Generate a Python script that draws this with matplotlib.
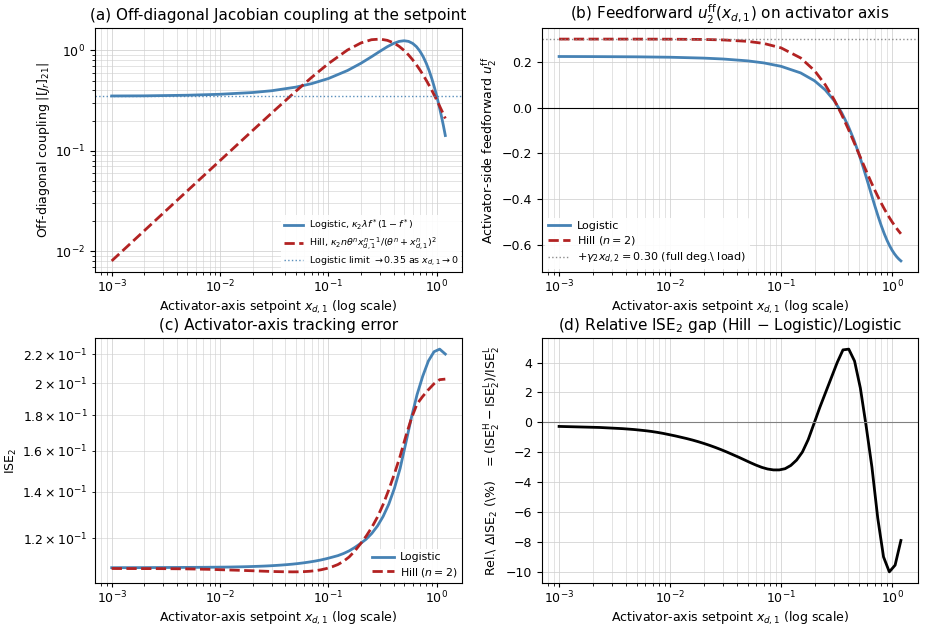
import numpy as np
import matplotlib
matplotlib.use("Agg")
import matplotlib.pyplot as plt

# ---------------- data ----------------
x_ab = [0.001, 0.002, 0.005, 0.01, 0.02, 0.03, 0.05, 0.07, 0.1, 0.15, 0.2, 0.25,
        0.3, 0.35, 0.4, 0.45, 0.5, 0.55, 0.6, 0.65, 0.7, 0.75, 0.8, 0.85, 0.9,
        0.95, 1.0, 1.05, 1.1, 1.15, 1.2]

# (a) off-diagonal coupling
coup_log = [0.352, 0.353, 0.358, 0.366, 0.381, 0.397, 0.431, 0.467, 0.525, 0.631,
            0.746, 0.866, 0.983, 1.090, 1.175, 1.231, 1.250, 1.231, 1.175, 1.090,
            0.983, 0.866, 0.746, 0.631, 0.525, 0.431, 0.351, 0.282, 0.226, 0.180, 0.142]
coup_hill = [0.0080, 0.0160, 0.0400, 0.0799, 0.1595, 0.2383, 0.3921, 0.5387, 0.7396,
             1.010, 1.189, 1.280, 1.298, 1.261, 1.190, 1.099, 1.000, 0.901, 0.806,
             0.719, 0.639, 0.568, 0.505, 0.449, 0.401, 0.358, 0.320, 0.287, 0.258,
             0.233, 0.210]
coup_limit = 0.35

# (b) feedforward
ff_log = [0.2238, 0.2234, 0.2224, 0.2206, 0.2168, 0.2129, 0.2047, 0.1957, 0.1808,
          0.1520, 0.1176, 0.0773, 0.0311, -0.0208, -0.0775, -0.1378, -0.2000,
          -0.2622, -0.3225, -0.3792, -0.4311, -0.4773, -0.5176, -0.5520, -0.5808,
          -0.6047, -0.6241, -0.6399, -0.6526, -0.6627, -0.6707]
ff_hill = [0.3000, 0.3000, 0.2999, 0.2996, 0.2984, 0.2964, 0.2901, 0.2808, 0.2615,
           0.2174, 0.1621, 0.1000, 0.0353, -0.0289, -0.0902, -0.1475, -0.2000,
           -0.2475, -0.2902, -0.3283, -0.3622, -0.3923, -0.4191, -0.4429, -0.4642,
           -0.4831, -0.5000, -0.5152, -0.5288, -0.5410, -0.5521]
ff_load = 0.30

# (c),(d) simulation grid: 60 log-spaced setpoints from 1e-3 to 1.2
x_sim = np.geomspace(1e-3, 1.2, 60)

ise_log = [0.10900, 0.10900, 0.10901, 0.10901, 0.10902, 0.10902, 0.10903, 0.10904,
           0.10905, 0.10906, 0.10907, 0.10908, 0.10909, 0.10910, 0.10911, 0.10912,
           0.10913, 0.10915, 0.10917, 0.10919, 0.10921, 0.10924, 0.10928, 0.10932,
           0.10937, 0.10943, 0.10950, 0.10958, 0.10968, 0.10980, 0.10994, 0.11010,
           0.11028, 0.11050, 0.11076, 0.11106, 0.11140, 0.11180, 0.11228, 0.11283,
           0.11340, 0.11420, 0.11520, 0.11650, 0.11800, 0.11970, 0.12200, 0.12500,
           0.12900, 0.13430, 0.14150, 0.15100, 0.16400, 0.17850, 0.19250, 0.20450,
           0.21500, 0.22170, 0.22360, 0.22000]
ise_hill = [0.10871, 0.10869, 0.10869, 0.10868, 0.10868, 0.10867, 0.10867, 0.10867,
            0.10866, 0.10865, 0.10863, 0.10862, 0.10860, 0.10858, 0.10854, 0.10851,
            0.10846, 0.10842, 0.10836, 0.10829, 0.10823, 0.10816, 0.10810, 0.10803,
            0.10796, 0.10789, 0.10781, 0.10774, 0.10767, 0.10761, 0.10757, 0.10753,
            0.10751, 0.10753, 0.10759, 0.10772, 0.10792, 0.10824, 0.10871, 0.10933,
            0.11013, 0.11132, 0.11292, 0.11516, 0.11791, 0.12090, 0.12444, 0.12875,
            0.13416, 0.14081, 0.14843, 0.15719, 0.16777, 0.17805, 0.18673, 0.19141,
            0.19565, 0.19953, 0.20225, 0.20262]
rel_gap = [-0.27, -0.28, -0.29, -0.30, -0.31, -0.32, -0.33, -0.34, -0.36, -0.38,
           -0.40, -0.42, -0.45, -0.48, -0.52, -0.56, -0.61, -0.67, -0.74, -0.82,
           -0.90, -0.99, -1.08, -1.18, -1.29, -1.41, -1.54, -1.68, -1.83, -1.99,
           -2.16, -2.33, -2.51, -2.69, -2.86, -3.01, -3.12, -3.18, -3.18, -3.10,
           -2.88, -2.52, -1.98, -1.15, -0.08, 1.00, 2.00, 3.00, 4.00, 4.85,
           4.90, 4.10, 2.30, -0.25, -3.00, -6.40, -9.00, -10.00, -9.55, -7.90]

# ---------------- style ----------------
plt.rcParams['font.family'] = ['DejaVu Sans']
plt.rcParams['font.size'] = 9
plt.rcParams['xtick.major.pad'] = 2.0
plt.rcParams['xtick.major.size'] = 3.0
plt.rcParams['xtick.minor.size'] = 1.8
plt.rcParams['axes.labelpad'] = 2.0
C_LOG = '#4682B4'
C_HILL = '#B22222'
XLAB = r'Activator-axis setpoint $x_{d,1}$ (log scale)'
LEG = dict(frameon=True, framealpha=0.9, edgecolor='none',
           borderpad=0.3, labelspacing=0.3, handletextpad=0.6)

fig = plt.figure(figsize=(9.25, 6.3), dpi=100)
W, H = 925.0, 630.0
ax_a = fig.add_axes([95 / W, (H - 272) / H, 367 / W, 244 / H])
ax_b = fig.add_axes([542 / W, (H - 272) / H, 376 / W, 244 / H])
ax_c = fig.add_axes([95 / W, (H - 583) / H, 367 / W, 245 / H])
ax_d = fig.add_axes([542 / W, (H - 583) / H, 376 / W, 245 / H])

def grid_style(ax, yboth):
    ax.grid(True, which='major', axis='x', color='#d0d0d0', lw=0.7, alpha=0.8)
    ax.grid(True, which='minor', axis='x', color='#d0d0d0', lw=0.6, alpha=0.7)
    ax.grid(True, which='major', axis='y', color='#d0d0d0', lw=0.7, alpha=0.8)
    if yboth:
        ax.grid(True, which='minor', axis='y', color='#d0d0d0', lw=0.6, alpha=0.7)

# (a)
ax = ax_a
ax.plot(x_ab, coup_log, color=C_LOG, lw=2, label=r'Logistic, $\kappa_2\lambda f^*(1-f^*)$')
ax.plot(x_ab, coup_hill, color=C_HILL, lw=2, ls='--',
        label=r'Hill, $\kappa_2 n\theta^n x_{d,1}^{n-1}/(\theta^n + x_{d,1}^n)^2$')
ax.axhline(coup_limit, color=C_LOG, lw=1, ls=':', alpha=0.9,
           label=r'Logistic limit $\to 0.35$ as $x_{d,1}\to 0$')
ax.set_xscale('log')
ax.set_yscale('log')
grid_style(ax, True)
ax.set_title('(a) Off-diagonal Jacobian coupling at the setpoint', fontsize=11)
ax.set_xlabel(XLAB)
ax.set_ylabel(r'Off-diagonal coupling $|[J_r]_{21}|$')
ax.legend(loc='lower right', fontsize=6.8, borderaxespad=0.1, **LEG)

# (b)
ax = ax_b
ax.plot(x_ab, ff_log, color=C_LOG, lw=2, label='Logistic')
ax.plot(x_ab, ff_hill, color=C_HILL, lw=2, ls='--', label=r'Hill ($n=2$)')
ax.axhline(ff_load, color='grey', lw=1, ls=':', alpha=0.9,
           label=r'$+\gamma_2 x_{d,2} = 0.30$ (full deg.\ load)')
ax.axhline(0.0, color='black', lw=0.8)
ax.set_xscale('log')
grid_style(ax, False)
ax.set_title(r'(b) Feedforward $u_2^{\rm ff}(x_{d,1})$ on activator axis', fontsize=11)
ax.set_xlabel(XLAB)
ax.set_ylabel(r'Activator-side feedforward $u_2^{\rm ff}$')
ax.legend(loc='lower left', fontsize=8, borderaxespad=0.25, **LEG)

# (c)
ax = ax_c
ax.plot(x_sim, ise_log, color=C_LOG, lw=2, label='Logistic')
ax.plot(x_sim, ise_hill, color=C_HILL, lw=2, ls='--', label=r'Hill ($n=2$)')
ax.set_xscale('log')
ax.set_yscale('log')
grid_style(ax, True)
ax.set_title('(c) Activator-axis tracking error', fontsize=11)
ax.set_xlabel(XLAB)
ax.set_ylabel(r'ISE$_2$')
ax.legend(loc='lower right', fontsize=7.8, borderaxespad=0.1, **LEG)

# (d)
ax = ax_d
ax.plot(x_sim, rel_gap, color='black', lw=2)
ax.axhline(0.0, color='grey', lw=0.8)
ax.set_xscale('log')
grid_style(ax, False)
ax.set_title(r'(d) Relative ISE$_2$ gap (Hill $-$ Logistic)/Logistic', fontsize=11)
ax.set_xlabel(XLAB)
ax.set_ylabel(r'Rel.\ $\Delta$ISE$_2$ (\%)   $= (\mathrm{ISE}_2^{\mathrm{H}} - \mathrm{ISE}_2^{\mathrm{L}})/\mathrm{ISE}_2^{\mathrm{L}}$')

fig.savefig('out.png', dpi=100)
